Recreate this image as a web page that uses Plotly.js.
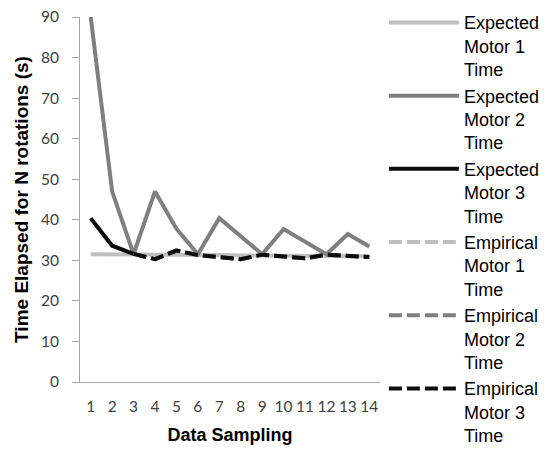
<!DOCTYPE html>
<html>
<head>
<meta charset="utf-8">
<script src="https://cdn.plot.ly/plotly-3.0.1.min.js"></script>
<style>
  html, body { margin: 0; padding: 0; background: #fff; }
  #chart { width: 556px; height: 451px; }
</style>
</head>
<body>
<div id="chart"></div>
<script>
// Sample index along the x axis
const samples = [1, 2, 3, 4, 5, 6, 7, 8, 9, 10, 11, 12, 13, 14];
const sampleLabels = ['1', '2', '3', '4', '5', '6', '7', '8', '9', '10', '11', '12', '13', '14'];

// Time elapsed for N rotations (s)
const expectedMotor1 = [31.5, 31.5, 31.4, 31.4, 31.3, 31.3, 31.3, 31.2, 31.2, 31.1, 31.1, 31.0, 31.0, 31.0];
const expectedMotor2 = [90.0, 47.0, 31.5, 47.0, 37.8, 31.5, 40.4, 36.0, 31.5, 37.7, 34.5, 31.5, 36.5, 33.4];
const expectedMotor3 = [40.4, 33.6, 31.6, null, null, null, null, null, null, null, null, null, null, null];
const empiricalMotor1 = [null, null, 31.6, 30.3, 32.4, 31.3, 30.8, 30.3, 31.4, 30.9, 30.5, 31.4, 31.1, 30.8];
const empiricalMotor2 = [null, null, 31.6, 30.3, 32.4, 31.3, 30.8, 30.3, 31.4, 30.9, 30.5, 31.4, 31.1, 30.8];
const empiricalMotor3 = [null, null, 31.6, 30.3, 32.4, 31.3, 30.8, 30.3, 31.4, 30.9, 30.5, 31.4, 31.1, 30.8];

const seriesNames = [
  'Expected<br>Motor 1<br>Time',
  'Expected<br>Motor 2<br>Time',
  'Expected<br>Motor 3<br>Time',
  'Empirical<br>Motor 1<br>Time',
  'Empirical<br>Motor 2<br>Time',
  'Empirical<br>Motor 3<br>Time'
];
const seriesValues = [expectedMotor1, expectedMotor2, expectedMotor3, empiricalMotor1, empiricalMotor2, empiricalMotor3];
const seriesColors = ['#bfbfbf', '#7f7f7f', '#0d0d0d', '#bfbfbf', '#7f7f7f', '#0d0d0d'];
const seriesDash = ['solid', 'solid', 'solid', '13px,5px', '13px,5px', '13px,5px'];

const traces = seriesValues.map((vals, i) => ({
  type: 'scatter',
  mode: 'lines',
  x: samples,
  y: vals,
  name: seriesNames[i],
  line: { color: seriesColors[i], width: 4, dash: seriesDash[i] },
  connectgaps: false,
  hoverinfo: 'skip'
}));

const layout = {
  width: 556,
  height: 451,
  margin: { l: 80, r: 176, t: 17, b: 69, pad: 0, autoexpand: false },
  paper_bgcolor: '#ffffff',
  plot_bgcolor: '#ffffff',
  showlegend: true,
  legend: {
    x: 1.013, xanchor: 'left',
    y: 1.035, yanchor: 'top',
    valign: 'top',
    itemwidth: 70,
    maxheight: 1,
    tracegroupgap: 0,
    font: { family: 'Liberation Sans, Arial, sans-serif', size: 18, color: '#000000' },
    bgcolor: 'rgba(0,0,0,0)',
    borderwidth: 0
  },
  xaxis: {
    range: [0.5, 14.5],
    tickmode: 'array',
    tickvals: samples,
    ticktext: sampleLabels,
    ticks: '',
    showgrid: false,
    zeroline: false,
    showline: true,
    linecolor: '#a6a6a6',
    linewidth: 1,
    ticklabelstandoff: 10,
    tickfont: { family: 'Lato, sans-serif', size: 15.5, color: '#404040' },
    title: {
      text: '<b>Data Sampling</b>',
      font: { family: 'Liberation Sans, Arial, sans-serif', size: 18, color: '#000000' },
      standoff: 14
    }
  },
  yaxis: {
    range: [0, 90],
    tickmode: 'array',
    tickvals: [0, 10, 20, 30, 40, 50, 60, 70, 80, 90],
    ticks: 'outside',
    ticklen: 7,
    tickcolor: '#a6a6a6',
    tickwidth: 1,
    showgrid: false,
    zeroline: false,
    showline: true,
    linecolor: '#a6a6a6',
    linewidth: 1,
    ticklabelstandoff: 10,
    tickfont: { family: 'Lato, sans-serif', size: 15.5, color: '#404040' },
    title: {
      text: '<b>Time Elapsed for N rotations (s)</b>',
      font: { family: 'Liberation Sans, Arial, sans-serif', size: 19, color: '#000000' },
      standoff: 7
    }
  }
};

Plotly.newPlot('chart', traces, layout, { staticPlot: true, displayModeBar: false });
</script>
</body>
</html>
